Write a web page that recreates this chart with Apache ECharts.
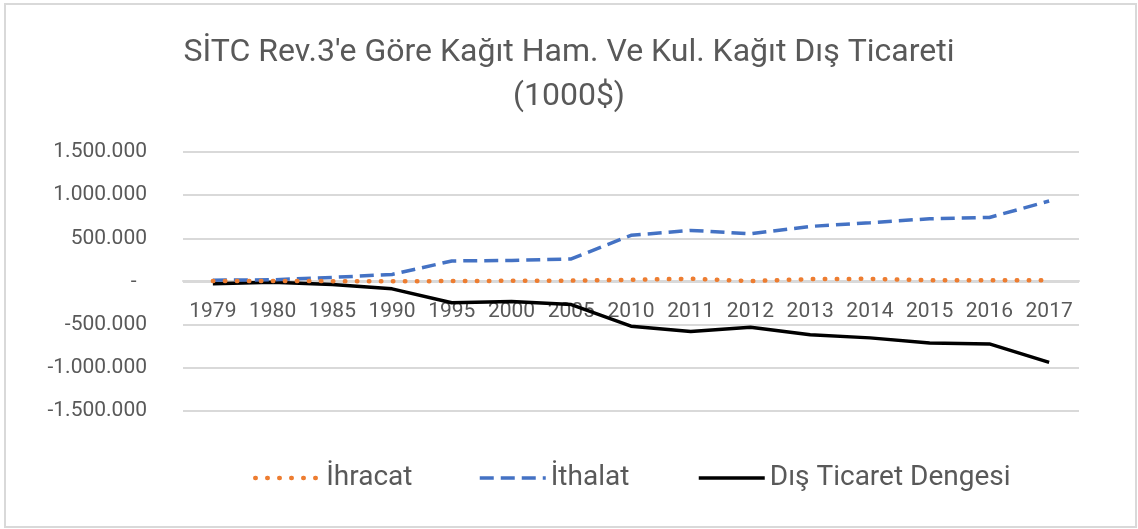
<!DOCTYPE html>
<html>
<head>
<meta charset="utf-8">
<script src="https://cdn.jsdelivr.net/npm/echarts@6/dist/echarts.min.js"></script>
<style>
  html, body { margin: 0; padding: 0; background: #fff; }
  #chart { width: 1138px; height: 529px; }
</style>
</head>
<body>
<div id="chart"></div>
<script>
// yıllar ve seriler (1000$)
const years = ['1979', '1980', '1985', '1990', '1995', '2000', '2005', '2010', '2011', '2012', '2013', '2014', '2015', '2016', '2017']
const ihracat = [5000, 6000, 4000, 3000, 5000, 8000, 10000, 20000, 32000, 5000, 28000, 31000, 15000, 15000, 15000]
const ithalat = [15000, 20000, 47000, 82000, 238000, 244000, 262000, 535000, 592000, 553000, 638000, 681000, 727000, 742000, 932000]
const denge = [-25000, -10000, -35000, -85000, -247000, -232000, -267000, -518000, -580000, -530000, -618000, -653000, -711000, -723000, -936000]
const legendNames = ['İhracat', 'İthalat', 'Dış Ticaret Dengesi']
const legendLeft = [253, 478, 697]
const lineWidths = [4.5, 3.5, 3.5]

const FONT = 'Roboto, "Open Sans", sans-serif'
const TXT = '#595959'

function fmt(v) {
  if (v === 0) return '-  '
  const s = Math.abs(v).toString().replace(/\B(?=(\d{3})+(?!\d))/g, '.')
  return (v < 0 ? '-' : '') + s
}

const chart = echarts.init(document.getElementById('chart'), null, { renderer: 'canvas' })

// her lejant öğesi ayrı konumlanıyor
const legends = legendNames.map((name, i) => ({
  data: [name],
  left: legendLeft[i],
  top: 464,
  padding: 0,
  itemWidth: 66,
  itemHeight: 14,
  selectedMode: false,
  itemStyle: { opacity: 0, borderWidth: 0 },
  lineStyle: { width: lineWidths[i] },
  textStyle: {
    fontFamily: FONT,
    fontSize: 28,
    color: TXT
  }
}))

const option = {
  animation: false,
  backgroundColor: '#ffffff',
  title: {
    text: "SİTC Rev.3'e Göre Kağıt Ham. Ve Kul. Kağıt Dış Ticareti\n(1000$)",
    left: 'center',
    top: 26,
    textStyle: {
      fontFamily: FONT,
      fontSize: 32,
      fontWeight: 'normal',
      color: TXT,
      lineHeight: 44
    }
  },
  legend: legends,
  grid: {
    left: 183,
    right: 59,
    top: 152,
    bottom: 118,
    containLabel: false
  },
  xAxis: {
    type: 'category',
    data: years,
    boundaryGap: true,
    offset: -130,
    axisTick: { show: false },
    axisLine: { onZero: false, lineStyle: { color: '#d9d9d9', width: 2 } },
    axisLabel: {
      margin: 20,
      fontFamily: FONT,
      fontSize: 21,
      color: TXT,
      interval: 0
    }
  },
  yAxis: {
    type: 'value',
    min: -1500000,
    max: 1500000,
    interval: 500000,
    axisLine: { show: false },
    axisTick: { show: false },
    axisLabel: {
      margin: 36,
      fontFamily: FONT,
      fontSize: 21,
      color: TXT,
      formatter: fmt
    },
    splitLine: { lineStyle: { color: '#d9d9d9', width: 2 } }
  },
  series: [
    {
      name: legendNames[0],
      type: 'line',
      data: ihracat,
      showSymbol: false,
      symbol: 'none',
      color: '#ED7D31',
      z: 3,
      lineStyle: { color: '#ED7D31', width: lineWidths[0], type: [0.5, 11.5], cap: 'round' }
    },
    {
      name: legendNames[1],
      type: 'line',
      data: ithalat,
      showSymbol: false,
      symbol: 'none',
      color: '#4472C4',
      z: 2,
      lineStyle: { color: '#4472C4', width: lineWidths[1], type: [14, 7] }
    },
    {
      name: legendNames[2],
      type: 'line',
      data: denge,
      showSymbol: false,
      symbol: 'none',
      color: '#000000',
      z: 1,
      lineStyle: { color: '#000000', width: lineWidths[2] }
    }
  ],
  graphic: [
    {
      type: 'rect',
      silent: true,
      shape: { x: 5, y: 4, width: 1131, height: 523 },
      style: { fill: 'none', stroke: '#d9d9d9', lineWidth: 2 }
    }
  ]
}

chart.setOption(option)
</script>
</body>
</html>
